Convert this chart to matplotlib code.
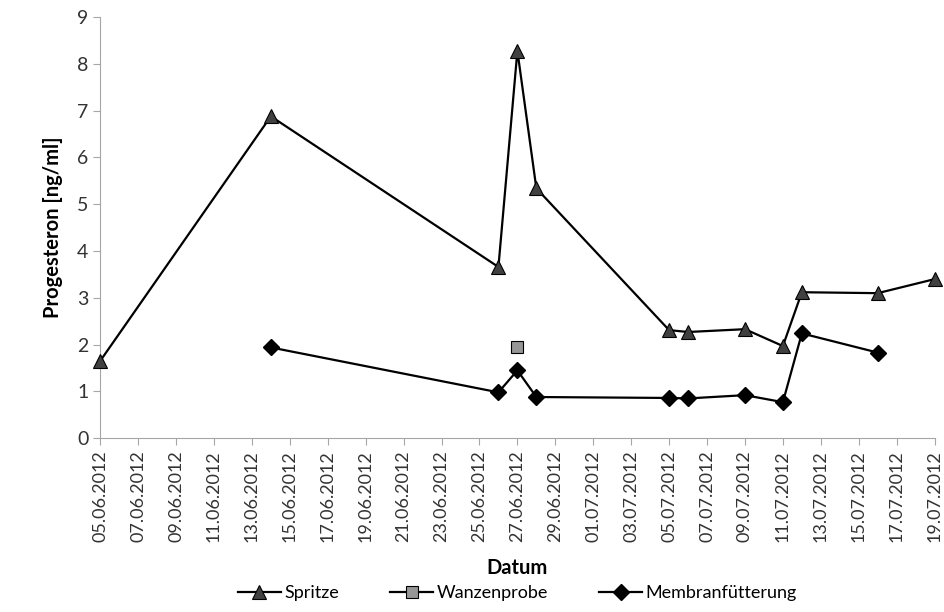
import matplotlib
matplotlib.use("Agg")
import matplotlib.pyplot as plt
import matplotlib.dates as mdates
import pandas as pd

plt.rcParams['font.family'] = ['Lato', 'DejaVu Sans']

spritze_dates = ["2012-06-05", "2012-06-14", "2012-06-26", "2012-06-27", "2012-06-28",
                 "2012-07-05", "2012-07-06", "2012-07-09", "2012-07-11", "2012-07-12",
                 "2012-07-16", "2012-07-19"]
spritze_vals = [1.65, 6.88, 3.66, 8.28, 5.34, 2.31, 2.27, 2.33, 1.97, 3.12, 3.10, 3.40]

wanzen_dates = ["2012-06-27"]
wanzen_vals = [1.94]

membran_dates = ["2012-06-14", "2012-06-26", "2012-06-27", "2012-06-28", "2012-07-05",
                 "2012-07-06", "2012-07-09", "2012-07-11", "2012-07-12", "2012-07-16"]
membran_vals = [1.94, 0.98, 1.45, 0.88, 0.86, 0.85, 0.92, 0.77, 2.24, 1.83]

fig = plt.figure(figsize=(9.45, 6.12), dpi=100)
ax = fig.add_axes([0.106, 0.284, 0.883, 0.688])

ax.plot(pd.to_datetime(spritze_dates), spritze_vals, color="black", lw=1.6,
        marker="^", ms=10, mfc="#404040", mec="black", mew=0.8, label="Spritze",
        clip_on=False, zorder=3)
ax.plot(pd.to_datetime(wanzen_dates), wanzen_vals, color="black", lw=1.6,
        marker="s", ms=9, mfc="#969696", mec="black", mew=0.8, label="Wanzenprobe",
        clip_on=False, zorder=3)
ax.plot(pd.to_datetime(membran_dates), membran_vals, color="black", lw=1.6,
        marker="D", ms=8, mfc="black", mec="black", label="Membranfütterung",
        clip_on=False, zorder=3)

ticks = pd.date_range("2012-06-05", "2012-07-19", freq="2D")
ax.set_xticks(ticks)
ax.xaxis.set_major_formatter(mdates.DateFormatter("%d.%m.%Y"))
ax.set_xlim(ticks[0], ticks[-1])
ax.set_ylim(0, 9)
ax.set_yticks(range(0, 10))

for s in ["top", "right"]:
    ax.spines[s].set_visible(False)
for s in ["left", "bottom"]:
    ax.spines[s].set_color("#a6a6a6")
ax.tick_params(axis="both", colors="#a6a6a6", length=5, labelcolor="#333333")
ax.tick_params(axis="y", labelsize=14)
ax.tick_params(axis="x", labelsize=13, labelrotation=90)

ax.set_ylabel("Progesteron [ng/ml]", fontsize=14.5, fontweight="bold", labelpad=10)
ax.set_xlabel("Datum", fontsize=14.5, fontweight="bold", labelpad=12)

ax.legend(loc="upper center", bbox_to_anchor=(0.5, -0.31), ncol=3, frameon=False,
          fontsize=13, handlelength=2.4, columnspacing=2.8, handletextpad=0.2)

fig.savefig("out.png", dpi=100, facecolor="white")
